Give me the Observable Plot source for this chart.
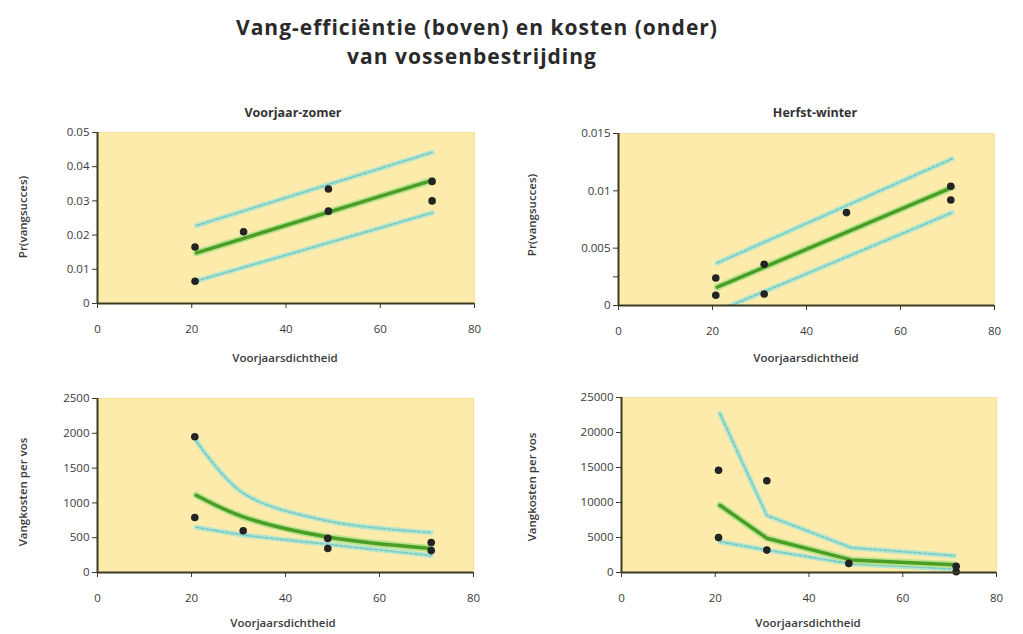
<!DOCTYPE html>
<html>
<head>
<meta charset="utf-8">
<script src="https://cdn.jsdelivr.net/npm/d3@7"></script>
<script src="https://cdn.jsdelivr.net/npm/@observablehq/plot@0.6"></script>
<style>
  html, body { margin: 0; padding: 0; background: #fff; }
  #wrap { position: relative; width: 1023px; height: 634px; font-family: "Open Sans", sans-serif; color: #333; overflow: hidden; }
  .abs { position: absolute; white-space: nowrap; }
  .title { font-weight: 700; font-size: 21px; letter-spacing: 1px; color: #2a2a2a; transform: translate(-50%, -50%); }
  .ptitle { font-weight: 700; font-size: 12.5px; color: #333; transform: translate(-50%, -50%); }
  .xlab { font-size: 11.5px; font-weight: 600; color: #3a3a3a; transform: translate(-50%, -50%); }
  .ylab { font-size: 11.5px; font-weight: 600; color: #3a3a3a; transform: translate(-50%, -50%) rotate(-90deg); }
  .panel { position: absolute; }
</style>
</head>
<body>
<div id="wrap"></div>
<script>
// ---------- Data ----------
const titel1 = "Vang-efficiëntie (boven) en kosten (onder)";
const titel2 = "van vossenbestrijding";
const seizoenen = ["Voorjaar-zomer", "Herfst-winter"];
const xLabel = "Voorjaarsdichtheid";
const yLabelBoven = "Pr(vangsucces)";
const yLabelOnder = "Vangkosten per vos";
const xTicks = [0, 20, 40, 60, 80];

// Top-left: vangsucces, voorjaar-zomer
const vzPuntX = [20.7, 20.7, 31, 49, 49, 71, 71];
const vzPuntY = [0.0165, 0.0065, 0.021, 0.0335, 0.027, 0.0357, 0.030];
const vzLijnX = [21, 71];
const vzFit   = [0.0148, 0.036];
const vzBoven = [0.0228, 0.0442];
const vzOnder = [0.0066, 0.0265];
const vzYTicks = [0, 0.01, 0.02, 0.03, 0.04, 0.05];

// Top-right: vangsucces, herfst-winter
const hwPuntX = [20.7, 20.7, 31, 31, 48.5, 70.7, 70.7];
const hwPuntY = [0.0024, 0.0009, 0.0036, 0.0010, 0.0081, 0.0104, 0.0092];
const hwLijnX = [21, 71];
const hwFit   = [0.0016, 0.0103];
const hwBoven = [0.0037, 0.0128];
const hwOnder = [-0.0005, 0.0081];
const hwYTicks = [0, 0.005, 0.01, 0.015];
const hwYMinor = [0.0025];

// Bottom-left: kosten, voorjaar-zomer
const kvPuntX = [20.7, 20.7, 31, 49, 49, 71, 71];
const kvPuntY = [1950, 790, 600, 490, 345, 430, 315];
const kvLijnX = [21, 31, 49, 71];
const kvFit   = [1110, 800, 510, 345];
const kvBoven = [1890, 1140, 740, 574];
const kvOnder = [650, 540, 405, 244];
const kvYTicks = [0, 500, 1000, 1500, 2000, 2500];

// Bottom-right: kosten, herfst-winter
const khPuntX = [20.7, 31, 20.7, 31, 48.5, 71.4, 71.4];
const khPuntY = [14600, 13100, 5000, 3200, 1300, 900, 100];
const khLijnX = [21, 31, 49, 71];
const khFit   = [9600, 4900, 1800, 1100];
const khBoven = [22700, 8150, 3550, 2400];
const khOnder = [4400, 3200, 1250, 500];
const khYTicks = [0, 5000, 10000, 15000, 20000, 25000];

// ---------- Layout helpers ----------
const wrap = document.getElementById("wrap");
function addText(cls, text, x, y) {
  const d = document.createElement("div");
  d.className = "abs " + cls;
  d.textContent = text;
  d.style.left = x + "px";
  d.style.top = y + "px";
  wrap.appendChild(d);
}

const zip = (xs, ys) => xs.map((x, i) => ({x, y: ys[i]}));

function panel(o) {
  const lijnen = [zip(o.lijnX, o.boven), zip(o.lijnX, o.onder)];
  const marks = [
    Plot.frame({fill: "#fcebaa", stroke: "#f6e39a"}),
  ];
  for (const l of lijnen) {
    marks.push(Plot.line(l, {x: "x", y: "y", curve: o.curve, stroke: "#b4e5cf", strokeWidth: 5, clip: true}));
    marks.push(Plot.line(l, {x: "x", y: "y", curve: o.curve, stroke: "#78c9bd", strokeWidth: 1.6, strokeDasharray: "3,2", clip: true}));
  }
  const fit = zip(o.lijnX, o.fit);
  marks.push(Plot.line(fit, {x: "x", y: "y", curve: o.curve, stroke: "#b8e28c", strokeWidth: 7, clip: true}));
  marks.push(Plot.line(fit, {x: "x", y: "y", curve: o.curve, stroke: "#4c9d26", strokeWidth: 3.5, clip: true}));
  marks.push(Plot.dot(zip(o.puntX, o.puntY), {x: "x", y: "y", r: 3.8, fill: "#232323", stroke: null}));
  marks.push(Plot.ruleY([o.yDomain[0]], {stroke: "#3b3a22", strokeWidth: 2}));
  marks.push(Plot.ruleX([0], {stroke: "#3b3a22", strokeWidth: 2}));
  marks.push(Plot.axisX({ticks: xTicks, tickSize: 5, tickPadding: 16, label: null, tickFormat: d => String(d), stroke: "#3b3a22"}));
  marks.push(Plot.axisY({ticks: o.yTicks, tickSize: 5, tickPadding: 3, label: null, tickFormat: d => String(d), stroke: "#3b3a22"}));
  if (o.yMinor) marks.push(Plot.axisY({ticks: o.yMinor, tickSize: 5, label: null, tickFormat: () => "", stroke: "#3b3a22"}));

  const svg = Plot.plot({
    width: o.w, height: o.h,
    marginLeft: o.ml, marginRight: o.mr, marginTop: o.mt, marginBottom: o.mb,
    x: {domain: [0, 80]},
    y: {domain: o.yDomain},
    style: {fontFamily: "Open Sans, sans-serif", fontSize: "11.5px", color: "#3a3a3a", background: "transparent", overflow: "visible"},
    marks
  });
  svg.classList.add("panel");
  svg.style.left = o.left + "px";
  svg.style.top = o.top + "px";
  wrap.appendChild(svg);
}

// ---------- Titles ----------
addText("title", titel1, 477, 27);
addText("title", titel2, 472, 56);
addText("ptitle", seizoenen[0], 293, 112);
addText("ptitle", seizoenen[1], 815, 112);

// ---------- Panels ----------
panel({left: 0, top: 120, w: 511, h: 250, ml: 97, mr: 37, mt: 12, mb: 67,
  yDomain: [0, 0.05], yTicks: vzYTicks, curve: "linear",
  puntX: vzPuntX, puntY: vzPuntY, lijnX: vzLijnX, fit: vzFit, boven: vzBoven, onder: vzOnder});
panel({left: 511, top: 120, w: 512, h: 250, ml: 107, mr: 29, mt: 13, mb: 65,
  yDomain: [0, 0.015], yTicks: hwYTicks, yMinor: hwYMinor, curve: "linear",
  puntX: hwPuntX, puntY: hwPuntY, lijnX: hwLijnX, fit: hwFit, boven: hwBoven, onder: hwOnder});
panel({left: 0, top: 385, w: 511, h: 249, ml: 97, mr: 38, mt: 13, mb: 62,
  yDomain: [0, 2500], yTicks: kvYTicks, curve: "catmull-rom",
  puntX: kvPuntX, puntY: kvPuntY, lijnX: kvLijnX, fit: kvFit, boven: kvBoven, onder: kvOnder});
panel({left: 511, top: 385, w: 512, h: 249, ml: 110, mr: 27, mt: 12, mb: 62,
  yDomain: [0, 25000], yTicks: khYTicks, curve: "linear",
  puntX: khPuntX, puntY: khPuntY, lijnX: khLijnX, fit: khFit, boven: khBoven, onder: khOnder});

// ---------- Axis labels ----------
addText("xlab", xLabel, 285, 357);
addText("xlab", xLabel, 806, 357);
addText("xlab", xLabel, 283, 622);
addText("xlab", xLabel, 808, 622);
addText("ylab", yLabelBoven, 22, 217);
addText("ylab", yLabelBoven, 531, 215);
addText("ylab", yLabelOnder, 22, 492);
addText("ylab", yLabelOnder, 531, 487);
</script>
</body>
</html>
